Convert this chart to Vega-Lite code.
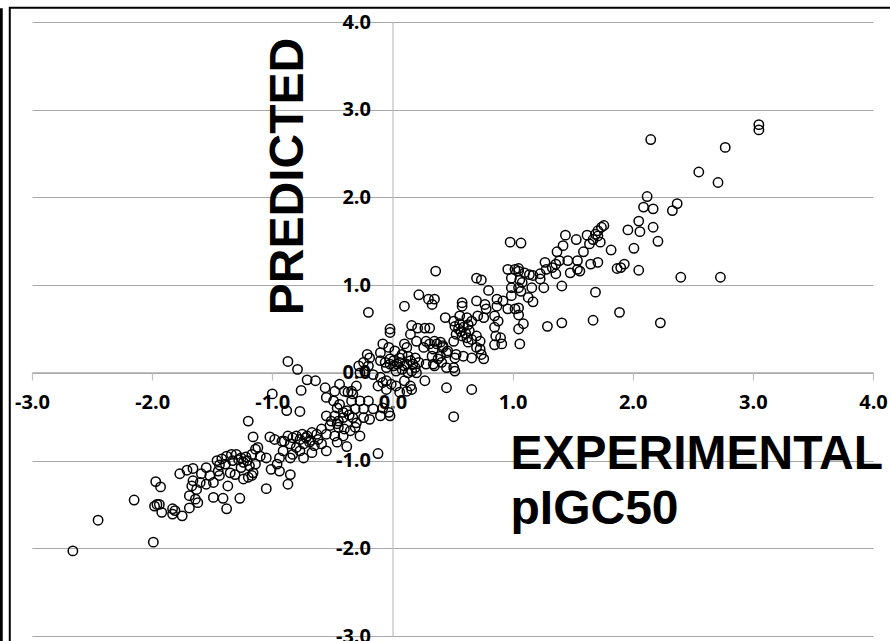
{
  "$schema": "https://vega.github.io/schema/vega-lite/v6.json",
  "width": 841,
  "height": 614,
  "autosize": {"type": "none"},
  "padding": {"left": 32, "top": 22, "right": 17, "bottom": 5},
  "background": "white",
  "config": {"view": {"stroke": null}},
  "layer": [
    {
      "data": {"values": [{"frame": "outer"}]},
      "mark": {"type": "rect", "fillOpacity": 0, "stroke": "black", "strokeWidth": 2, "clip": false},
      "encoding": {
        "x": {"datum": -3.185, "type": "quantitative", "scale": {"domain": [-3, 4], "nice": false, "zero": false}},
        "x2": {"datum": 4.6},
        "y": {"datum": 4.162, "type": "quantitative", "scale": {"domain": [-3, 4], "nice": false, "zero": false}},
        "y2": {"datum": -3.8}
      }
    },
    {
      "data": {"values": [{"frame": "left"}]},
      "mark": {"type": "rect", "fillOpacity": 0, "stroke": "black", "strokeWidth": 3, "clip": false},
      "encoding": {
        "x": {"datum": -3.45, "type": "quantitative", "scale": {"domain": [-3, 4], "nice": false, "zero": false}},
        "x2": {"datum": -3.256},
        "y": {"datum": 4.14, "type": "quantitative", "scale": {"domain": [-3, 4], "nice": false, "zero": false}},
        "y2": {"datum": -3.8}
      }
    },
    {
      "data": {"values": [
        {"e":3.05,"p":2.83},{"e":3.05,"p":2.77},{"e":2.15,"p":2.66},{"e":2.77,"p":2.57},{"e":2.55,"p":2.29},{"e":2.71,"p":2.17},
        {"e":2.12,"p":2.01},{"e":2.09,"p":1.89},{"e":2.17,"p":1.87},{"e":2.37,"p":1.93},{"e":2.33,"p":1.85},{"e":2.05,"p":1.73},
        {"e":1.96,"p":1.63},{"e":2.06,"p":1.61},{"e":2.17,"p":1.66},{"e":2.21,"p":1.50},{"e":2.01,"p":1.42},{"e":1.93,"p":1.24},
        {"e":1.90,"p":1.20},{"e":2.05,"p":1.17},{"e":2.40,"p":1.09},{"e":2.73,"p":1.09},{"e":1.89,"p":0.69},{"e":2.23,"p":0.57},
        {"e":1.76,"p":1.68},{"e":1.74,"p":1.66},{"e":1.71,"p":1.62},{"e":1.69,"p":1.58},{"e":1.71,"p":1.56},{"e":1.67,"p":1.52},
        {"e":1.62,"p":1.57},{"e":1.73,"p":1.49},{"e":1.64,"p":1.47},{"e":1.53,"p":1.52},{"e":1.44,"p":1.57},{"e":1.42,"p":1.45},
        {"e":1.59,"p":1.38},{"e":1.82,"p":1.40},{"e":1.37,"p":1.38},{"e":1.39,"p":1.28},{"e":1.46,"p":1.28},{"e":1.54,"p":1.28},
        {"e":1.65,"p":1.24},{"e":1.71,"p":1.26},{"e":1.87,"p":1.19},{"e":1.54,"p":1.18},{"e":1.56,"p":1.16},{"e":1.48,"p":1.14},
        {"e":1.36,"p":1.24},{"e":1.33,"p":1.20},{"e":1.36,"p":1.13},{"e":1.27,"p":1.26},{"e":1.28,"p":1.18},{"e":1.23,"p":1.13},
        {"e":1.23,"p":1.07},{"e":1.41,"p":0.99},{"e":1.26,"p":0.97},{"e":1.17,"p":1.11},{"e":1.14,"p":1.12},{"e":1.10,"p":1.14},
        {"e":0.98,"p":1.49},{"e":1.07,"p":1.48},{"e":0.96,"p":1.18},{"e":1.02,"p":1.18},{"e":1.05,"p":1.16},{"e":1.05,"p":1.19},
        {"e":0.99,"p":1.08},{"e":1.06,"p":1.06},{"e":1.08,"p":1.03},{"e":0.99,"p":0.97},{"e":1.05,"p":0.97},{"e":1.07,"p":0.93},
        {"e":1.16,"p":0.97},{"e":0.99,"p":0.88},{"e":1.13,"p":0.86},{"e":1.17,"p":0.81},{"e":0.92,"p":0.82},{"e":0.96,"p":0.73},
        {"e":1.02,"p":0.73},{"e":1.05,"p":0.74},{"e":1.05,"p":0.66},{"e":1.09,"p":0.56},{"e":1.05,"p":0.50},{"e":1.06,"p":0.33},
        {"e":1.29,"p":0.53},{"e":1.41,"p":0.57},{"e":1.69,"p":0.92},{"e":1.67,"p":0.60},{"e":0.90,"p":0.40},{"e":0.91,"p":0.33},
        {"e":0.36,"p":1.16},{"e":0.70,"p":1.08},{"e":0.74,"p":1.06},{"e":0.80,"p":0.94},{"e":0.22,"p":0.89},{"e":0.30,"p":0.84},
        {"e":0.35,"p":0.84},{"e":0.33,"p":0.78},{"e":0.10,"p":0.76},{"e":0.58,"p":0.80},{"e":0.58,"p":0.76},{"e":0.70,"p":0.82},
        {"e":0.77,"p":0.78},{"e":0.78,"p":0.73},{"e":0.87,"p":0.84},{"e":0.87,"p":0.76},{"e":0.85,"p":0.65},{"e":0.88,"p":0.59},
        {"e":0.85,"p":0.52},{"e":0.86,"p":0.42},{"e":0.85,"p":0.32},{"e":0.44,"p":0.63},{"e":0.51,"p":0.59},{"e":0.56,"p":0.65},
        {"e":0.62,"p":0.63},{"e":0.66,"p":0.59},{"e":0.71,"p":0.65},{"e":0.76,"p":0.63},{"e":0.52,"p":0.53},{"e":0.55,"p":0.50},
        {"e":0.59,"p":0.52},{"e":0.63,"p":0.55},{"e":0.53,"p":0.44},{"e":0.58,"p":0.42},{"e":0.62,"p":0.40},{"e":0.66,"p":0.38},
        {"e":0.51,"p":0.36},{"e":0.63,"p":0.35},{"e":0.70,"p":0.42},{"e":0.73,"p":0.36},{"e":0.70,"p":0.29},{"e":0.74,"p":0.21},
        {"e":0.76,"p":0.16},{"e":0.16,"p":0.54},{"e":0.21,"p":0.51},{"e":0.27,"p":0.51},{"e":0.31,"p":0.51},{"e":0.15,"p":0.44},
        {"e":0.10,"p":0.33},{"e":0.20,"p":0.36},{"e":0.28,"p":0.36},{"e":0.35,"p":0.36},{"e":0.40,"p":0.35},{"e":0.26,"p":0.29},
        {"e":0.34,"p":0.27},{"e":0.42,"p":0.29},{"e":0.46,"p":0.25},{"e":0.40,"p":0.19},{"e":0.33,"p":0.19},{"e":0.52,"p":0.17},
        {"e":0.59,"p":0.19},{"e":0.66,"p":0.17},{"e":0.73,"p":0.27},{"e":0.51,"p":0.06},
        {"e":-0.20,"p":0.69},{"e":-0.02,"p":0.50},{"e":-0.02,"p":0.46},{"e":0.12,"p":0.29},{"e":-0.08,"p":0.33},{"e":-0.03,"p":0.29},
        {"e":0.02,"p":0.25},{"e":0.08,"p":0.21},{"e":0.13,"p":0.19},{"e":0.19,"p":0.17},{"e":-0.10,"p":0.14},{"e":-0.06,"p":0.12},
        {"e":-0.02,"p":0.16},{"e":0.01,"p":0.08},{"e":0.06,"p":0.12},{"e":0.10,"p":0.08},{"e":0.15,"p":0.14},{"e":0.19,"p":0.06},
        {"e":-0.05,"p":0.06},{"e":0.03,"p":0.02},{"e":0.13,"p":0.00},{"e":0.20,"p":0.00},{"e":0.31,"p":0.33},{"e":0.45,"p":0.23},
        {"e":0.42,"p":0.31},{"e":0.38,"p":0.16},{"e":0.28,"p":0.10},{"e":0.35,"p":0.08},{"e":0.45,"p":0.06},{"e":0.27,"p":-0.09},
        {"e":0.45,"p":-0.17},{"e":-0.21,"p":0.21},{"e":-0.19,"p":0.17},{"e":-0.24,"p":0.12},{"e":-0.28,"p":0.08},{"e":-0.20,"p":0.08},
        {"e":-0.27,"p":0.00},{"e":-0.23,"p":0.02},{"e":-0.16,"p":-0.02},{"e":-0.10,"p":-0.05},{"e":-0.08,"p":-0.11},{"e":-0.12,"p":-0.15},
        {"e":-0.05,"p":-0.09},{"e":-0.01,"p":-0.13},{"e":0.03,"p":-0.15},{"e":-0.05,"p":-0.19},{"e":0.10,"p":-0.09},{"e":0.15,"p":-0.15},
        {"e":0.12,"p":-0.21},{"e":0.16,"p":-0.19},{"e":0.06,"p":-0.22},{"e":-0.08,"p":-0.40},{"e":-0.03,"p":-0.45},{"e":-0.02,"p":-0.49},
        {"e":-0.10,"p":-0.49},{"e":-0.27,"p":-0.72},{"e":-0.12,"p":-0.92},
        {"e":-0.56,"p":-0.17},{"e":-0.55,"p":-0.28},{"e":-0.48,"p":-0.21},{"e":-0.44,"p":-0.13},{"e":-0.40,"p":-0.21},{"e":-0.37,"p":-0.22},
        {"e":-0.34,"p":-0.21},{"e":-0.30,"p":-0.15},{"e":-0.49,"p":-0.32},{"e":-0.44,"p":-0.36},{"e":-0.34,"p":-0.32},{"e":-0.27,"p":-0.32},
        {"e":-0.20,"p":-0.32},{"e":-0.31,"p":-0.41},{"e":-0.24,"p":-0.41},{"e":-0.16,"p":-0.41},{"e":-0.55,"p":-0.49},{"e":-0.48,"p":-0.49},
        {"e":-0.41,"p":-0.51},{"e":-0.33,"p":-0.51},{"e":-0.24,"p":-0.51},{"e":-0.19,"p":-0.53},{"e":-0.52,"p":-0.60},{"e":-0.45,"p":-0.62},
        {"e":-0.40,"p":-0.64},{"e":-0.31,"p":-0.62},{"e":-0.55,"p":-0.70},{"e":-0.48,"p":-0.72},{"e":-0.41,"p":-0.72},
        {"e":-0.38,"p":-0.84},{"e":-0.46,"p":-0.79},{"e":-0.67,"p":-0.91},{"e":-0.87,"p":-1.27},{"e":-1.05,"p":-1.32},
        {"e":-0.87,"p":0.13},{"e":-0.79,"p":0.04},{"e":-0.71,"p":-0.08},{"e":-0.64,"p":-0.09},{"e":-0.76,"p":-0.20},{"e":-1.00,"p":-0.24},
        {"e":-0.88,"p":-0.43},{"e":-0.77,"p":-0.44},{"e":-1.20,"p":-0.55},{"e":-1.16,"p":-0.73},{"e":-1.02,"p":-0.73},{"e":-0.98,"p":-0.76},
        {"e":-0.92,"p":-0.78},{"e":-0.87,"p":-0.72},{"e":-0.83,"p":-0.74},{"e":-0.77,"p":-0.76},{"e":-0.71,"p":-0.72},{"e":-0.67,"p":-0.68},
        {"e":-0.63,"p":-0.70},{"e":-0.59,"p":-0.64},{"e":-0.51,"p":-0.55},{"e":-0.46,"p":-0.58},{"e":-0.90,"p":-0.78},{"e":-0.85,"p":-0.81},
        {"e":-0.80,"p":-0.85},{"e":-0.74,"p":-0.81},{"e":-0.69,"p":-0.79},{"e":-0.65,"p":-0.83},{"e":-0.59,"p":-0.81},{"e":-0.55,"p":-0.89},
        {"e":-0.77,"p":-0.89},{"e":-0.91,"p":-0.89},{"e":-0.94,"p":-0.97},{"e":-0.85,"p":-0.97},{"e":-0.83,"p":-0.93},{"e":-0.74,"p":-0.97},
        {"e":-0.96,"p":-1.04},{"e":-1.01,"p":-1.10},{"e":-0.94,"p":-1.12},{"e":-0.85,"p":-1.16},{"e":-1.05,"p":-0.97},{"e":-1.10,"p":-0.95},
        {"e":-1.14,"p":-0.87},{"e":-1.17,"p":-0.93},{"e":-1.55,"p":-1.08},{"e":-1.46,"p":-1.00},{"e":-1.42,"p":-0.98},{"e":-1.38,"p":-0.95},
        {"e":-1.34,"p":-0.93},{"e":-1.30,"p":-0.93},{"e":-1.26,"p":-0.97},{"e":-1.21,"p":-1.00},{"e":-1.19,"p":-1.06},{"e":-1.14,"p":-1.04},
        {"e":-1.33,"p":-1.00},{"e":-1.39,"p":-1.04},{"e":-1.45,"p":-1.12},{"e":-1.52,"p":-1.17},{"e":-1.44,"p":-1.17},{"e":-1.35,"p":-1.14},
        {"e":-1.26,"p":-1.08},{"e":-1.31,"p":-1.16},{"e":-0.33,"p":-0.24},{"e":-0.46,"p":-0.40},{"e":-0.41,"p":-0.45},{"e":-0.45,"p":-0.55},
        {"e":-0.35,"p":-0.66},{"e":-0.30,"p":-0.57},
        {"e":-1.12,"p":-0.85},{"e":-1.77,"p":-1.15},{"e":-1.71,"p":-1.11},{"e":-1.66,"p":-1.09},{"e":-1.59,"p":-1.15},{"e":-1.44,"p":-1.05},
        {"e":-1.16,"p":-1.14},{"e":-1.49,"p":-1.25},{"e":-1.55,"p":-1.27},{"e":-1.60,"p":-1.25},{"e":-1.66,"p":-1.23},{"e":-1.67,"p":-1.29},
        {"e":-1.63,"p":-1.33},{"e":-1.69,"p":-1.40},{"e":-1.64,"p":-1.44},{"e":-1.62,"p":-1.48},{"e":-1.49,"p":-1.42},{"e":-1.41,"p":-1.43},
        {"e":-1.37,"p":-1.29},{"e":-1.20,"p":-1.19},{"e":-1.17,"p":-1.17},{"e":-1.24,"p":-1.21},{"e":-1.27,"p":-1.43},{"e":-1.38,"p":-1.55},
        {"e":-1.97,"p":-1.24},{"e":-1.93,"p":-1.30},{"e":-2.15,"p":-1.45},{"e":-1.96,"p":-1.50},{"e":-1.94,"p":-1.50},{"e":-1.98,"p":-1.52},
        {"e":-1.92,"p":-1.59},{"e":-1.83,"p":-1.55},{"e":-1.81,"p":-1.57},{"e":-1.83,"p":-1.61},{"e":-1.75,"p":-1.63},{"e":-1.69,"p":-1.54},
        {"e":-2.45,"p":-1.68},{"e":-1.99,"p":-1.93},{"e":-2.66,"p":-2.03},
        {"e":0.66,"p":-0.19},{"e":0.51,"p":-0.50},{"e":0.52,"p":0.02},{"e":0.41,"p":0.12},{"e":0.53,"p":0.21},
        {"e":-0.10,"p":0.23},{"e":0.37,"p":0.33},{"e":0.34,"p":0.10},{"e":0.16,"p":0.02},{"e":0.12,"p":0.10},{"e":0.06,"p":0.17},{"e":0.01,"p":0.14},
        {"e":-0.72,"p":-0.74},{"e":-0.68,"p":-0.77},{"e":-0.80,"p":-0.72},{"e":-0.62,"p":-0.76},{"e":-0.75,"p":-0.70},
        {"e":0.04,"p":0.10},{"e":0.08,"p":0.04},{"e":-0.02,"p":0.10},{"e":0.17,"p":0.10},{"e":0.22,"p":0.12},
        {"e":0.57,"p":0.47},{"e":0.61,"p":0.45},{"e":0.56,"p":0.56},{"e":0.64,"p":0.48},
        {"e":-1.24,"p":-1.02},{"e":-1.28,"p":-0.99},{"e":-1.22,"p":-0.96},{"e":-0.38,"p":-0.43},{"e":-0.36,"p":-0.48}
      ]},
      "mark": {"type": "point", "shape": "circle", "filled": false, "stroke": "black", "strokeWidth": 1.5, "size": 88, "opacity": 1},
      "encoding": {
        "x": {
          "field": "e", "type": "quantitative",
          "scale": {"domain": [-3, 4], "nice": false, "zero": false},
          "axis": {
            "orient": "bottom", "offset": -264, "values": [-3, -2, -1, 0, 1, 2, 3, 4],
            "grid": false, "domainColor": "#BFBFBF", "domainWidth": 1.2, "tickColor": "#BFBFBF", "tickSize": 8, "tickWidth": 1.2,
            "labelFont": "Open Sans", "labelFontWeight": "bold", "labelFontSize": 20, "labelColor": "black", "labelPadding": 12,
            "labelFlush": false, "labelOverlap": false,
            "labelExpr": "replace(format(datum.value, '.1f'), '\u2212', '-')",
            "title": ["EXPERIMENTAL", "pIGC50"],
            "titleFont": "Liberation Sans", "titleFontSize": 48, "titleFontWeight": "bold", "titleColor": "black",
            "titleAlign": "left", "titleAnchor": null, "titleX": 478, "titleY": 96, "titleBaseline": "alphabetic", "titleLineHeight": 55
          }
        },
        "y": {
          "field": "p", "type": "quantitative",
          "scale": {"domain": [-3, 4], "nice": false, "zero": false},
          "axis": {
            "orient": "left", "offset": -360.5, "values": [-3, -2, -1, 0, 1, 2, 3, 4],
            "grid": true, "gridColor": "#A8A8A8", "gridWidth": 1.2,
            "ticks": false, "domainColor": "#BFBFBF", "domainWidth": 1.2,
            "labelFont": "Open Sans", "labelFontWeight": "bold", "labelFontSize": 20, "labelColor": "black", "labelPadding": 22,
            "labelFlush": false, "labelOverlap": false,
            "labelExpr": "replace(format(datum.value, '.1f'), '\u2212', '-')",
            "title": "PREDICTED",
            "titleFont": "Liberation Sans", "titleFontSize": 48, "titleFontWeight": "bold", "titleColor": "black",
            "titleAngle": 270, "titleAlign": "center", "titleAnchor": null, "titleBaseline": "middle", "titleX": -104.5, "titleY": 154
          }
        }
      }
    }
  ]
}
